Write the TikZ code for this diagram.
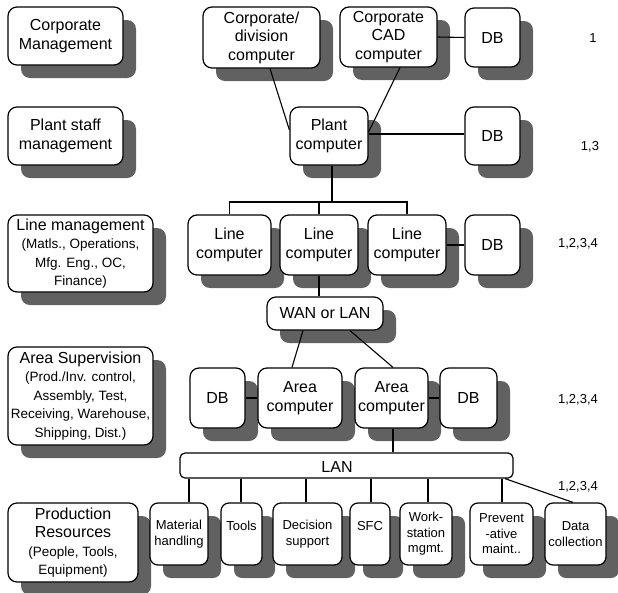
\documentclass[tikz,border=0pt]{standalone}
\usepackage{fontspec}
\setmainfont{Liberation Sans}
\usetikzlibrary{shadows}
\definecolor{shadowgray}{gray}{0.38}
\newcommand\mainf{\fontsize{16}{18.5}\selectfont}
\newcommand\subf{\fontsize{13.5}{16}\selectfont}
\newcommand\smallf{\fontsize{13}{15.5}\selectfont}
\begin{document}
\begin{tikzpicture}[x=1pt,y=-1pt,
  box/.style={draw, line width=1.2pt, rounded corners=9pt, fill=white, align=center,
    inner sep=0pt, font=\mainf,
    drop shadow={shadow xshift=13pt, shadow yshift=-13pt, fill=shadowgray, opacity=1}},
  sbox/.style={box, font=\smallf, rounded corners=8pt},
  conn/.style={line width=1.1pt},
  lbl/.style={font=\smallf, inner sep=0pt}]
\useasboundingbox (0,0) rectangle (618,592);

% left column
\node[box, minimum width=115pt, minimum height=58pt] (cm) at (65.5,36) {Corporate\\Management};
\node[box, minimum width=115pt, minimum height=58pt] (psm) at (65.5,136) {Plant staff\\management};
\node[box, minimum width=145pt, minimum height=77pt] (lm) at (80.5,253.5) {Line management\\\subf (Matls., Operations,\\\subf Mfg. Eng., OC,\\\subf Finance)};
\node[box, minimum width=145pt, minimum height=98pt] (as) at (80.5,396) {Area Supervision\\\subf (Prod./Inv. control,\\\subf Assembly, Test,\\\subf Receiving, Warehouse,\\\subf Shipping, Dist.)};
\node[box, minimum width=130pt, minimum height=79pt] (pr) at (73,542.5) {Production\\Resources\\\subf (People, Tools,\\\subf Equipment)};

% level 1
\node[box, minimum width=117pt, minimum height=61pt] (cdc) at (261.5,37.5) {Corporate/\\division\\computer};
\node[box, minimum width=97pt, minimum height=60pt] (cad) at (388.5,37) {Corporate\\CAD\\computer};
\node[box, minimum width=55pt, minimum height=59pt] (db1) at (492.5,37.5) {DB};
\node[lbl] (n1) at (593,38) {1};

% level 2
\node[box, minimum width=78pt, minimum height=58pt] (pc) at (329,136) {Plant\\computer};
\node[box, minimum width=55pt, minimum height=58pt] (db2) at (492.5,136) {DB};
\node[lbl] (n2) at (590,147) {1,3};

% level 3
\node[box, minimum width=83pt, minimum height=60pt] (lc1) at (229.5,245) {Line\\computer};
\node[box, minimum width=78pt, minimum height=60pt] (lc2) at (319,245) {Line\\computer};
\node[box, minimum width=78pt, minimum height=60pt] (lc3) at (407,245) {Line\\computer};
\node[box, minimum width=55pt, minimum height=60pt] (db3) at (492.5,245) {DB};
\node[lbl] (n3) at (578,244) {1,2,3,4};

\node[box, minimum width=116pt, minimum height=33pt] (wan) at (325,313.5) {WAN or LAN};

% level 4
\node[box, minimum width=55pt, minimum height=60pt] (adb1) at (217.5,398) {DB};
\node[box, minimum width=84pt, minimum height=60pt] (ac1) at (300,398) {Area\\computer};
\node[box, minimum width=73pt, minimum height=60pt] (ac2) at (391.5,398) {Area\\computer};
\node[box, minimum width=57pt, minimum height=60pt] (adb2) at (468.5,398) {DB};
\node[lbl] (n4) at (578,400) {1,2,3,4};

% LAN bar
\node[draw, line width=1.2pt, rounded corners=5pt, fill=white, minimum width=333pt, minimum height=25pt, inner sep=0pt] (lan) at (346.5,465.5) {};
\node[font=\mainf, inner sep=0pt] (lant) at (337,467) {LAN};
\node[lbl] (n5) at (578,487) {1,2,3,4};

% level 5
\node[sbox, minimum width=58pt, minimum height=62pt] (mh) at (179,534) {Material\\handling};
\node[sbox, minimum width=41pt, minimum height=62pt] (tl) at (241.5,534) {\raisebox{4pt}[0pt][0pt]{Tools}};
\node[sbox, minimum width=69pt, minimum height=62pt] (ds) at (307.5,534) {Decision\\support};
\node[sbox, minimum width=40pt, minimum height=62pt] (sfc) at (370,534) {\raisebox{4pt}[0pt][0pt]{SFC}};
\node[sbox, minimum width=52pt, minimum height=62pt] (ws) at (426,534) {Work-\\station\\mgmt.};
\node[sbox, minimum width=63pt, minimum height=62pt] (pm) at (501.5,534) {Prevent\\-ative\\maint..};
\node[sbox, minimum width=61pt, minimum height=62pt] (dc) at (575.5,534) {Data\\collection};

% connectors
\draw[conn] (cdc.south -| 270,0) -- (pc.west |- 0,130);
\draw[conn] (cad.south -| 400,0) -- (pc.east |- 0,132);
\draw[conn] (pc.east |- 0,134) -- (db2.west |- 0,134);
\draw[conn] (cad.east) -- (db1.west);
\coordinate (bus) at (332,202);
\draw[conn] (pc.south -| bus) -- (bus);
\draw[conn] (lc1.north) |- (bus) -| (lc3.north);
\draw[conn] (lc2.north) -- (lc2.north |- bus);
\draw[conn] (lc3.east) -- (db3.west);
\draw[conn] (lc2.south) -- (wan.north -| lc2.south);
\draw[conn] (wan.south -| 303,0) -- (ac1.north -| 292,0);
\draw[conn] (wan.south -| 350,0) -- (ac2.north -| 393,0);
\draw[conn] (adb1.east) -- (ac1.west);
\draw[conn] (ac2.east) -- (adb2.west);
\draw[conn] (ac2.south -| 393,0) -- (lan.north -| 393,0);
\foreach \n/\x in {mh/189, tl/241, ds/306, sfc/371, ws/428, pm/502}
  \draw[conn] (lan.south -| \x,0) -- (\n.north -| \x,0);
\draw[conn] (lan.south -| 505,0) -- (dc.north -| 573,0);
\end{tikzpicture}
\end{document}
